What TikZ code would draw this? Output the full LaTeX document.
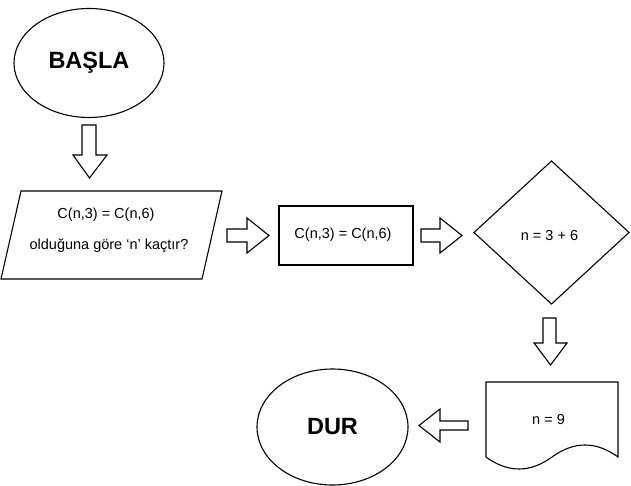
\documentclass[tikz,border=0pt]{standalone}
\usepackage{fontspec}
\setmainfont{Liberation Sans}
\usetikzlibrary{shapes.geometric}
\tikzset{
  shapeline/.style={draw=black, line width=1.1pt, line join=miter},
  term/.style={shapeline, ellipse, inner sep=0pt, font=\fontsize{23.5}{28}\selectfont\bfseries},
  lbl/.style={inner sep=0pt, font=\fontsize{14.5}{17}\selectfont},
  blockarrow/.style={draw=black, line width=1.1pt, fill=white, line join=miter}
}
\begin{document}
\begin{tikzpicture}[x=1pt,y=-1pt]
\useasboundingbox (0,0) rectangle (631,486);
% terminals
\node[term, minimum width=150pt, minimum height=109pt] (start) at (89,63) {BAŞLA};
\node[term, minimum width=151pt, minimum height=116pt] (stop) at (332.5,427) {DUR};
% input parallelogram
\draw[shapeline] (21,191) -- (222,191) -- (202,279) -- (1,279) -- cycle;
\node[lbl] (in1) at (106,215) {C(n,3) = C(n,6)};
\node[lbl] (in2) at (109,246) {olduğuna göre ‘n\char"0027\ kaçtır?};
% process
\draw[shapeline] (279,206) rectangle (413,265);
\node[lbl] (proc) at (343,235) {C(n,3) = C(n,6)};
% decision
\draw[shapeline] (474,232.5) -- (551.5,161) -- (629,232.5) -- (551.5,304) -- cycle;
\node[lbl] (dec) at (549.5,236) {n = 3 + 6};
% document
\draw[shapeline] (486,382) -- (618,382) -- (618,457)
  .. controls (596,441) and (574,441) .. (552,457)
  .. controls (530,473) and (508,473) .. (486,457) -- cycle;
\node[lbl] (doc) at (548.5,420) {n = 9};
% block arrows
\draw[blockarrow] (82,125) -- (96,125) -- (96,155) -- (107,155) -- (89.5,178) -- (73,155) -- (82,155) -- cycle;
\draw[blockarrow] (227,229) -- (247,229) -- (247,218) -- (269,235.5) -- (247,253) -- (247,242) -- (227,242) -- cycle;
\draw[blockarrow] (421,229) -- (440,229) -- (440,218) -- (462,235.5) -- (440,253) -- (440,242) -- (421,242) -- cycle;
\draw[blockarrow] (543,318) -- (556,318) -- (556,343) -- (567,343) -- (550.5,365) -- (534,343) -- (543,343) -- cycle;
\draw[blockarrow] (468,421) -- (440,421) -- (440,409) -- (419,425.5) -- (440,442) -- (440,430) -- (468,430) -- cycle;
\end{tikzpicture}
\end{document}
